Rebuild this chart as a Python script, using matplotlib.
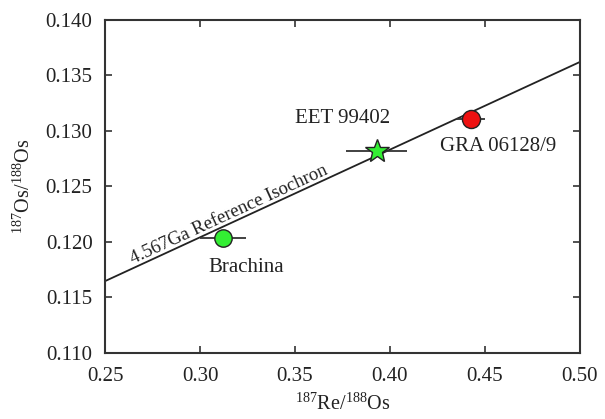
import numpy as np
import matplotlib.pyplot as plt

plt.rcParams['font.family'] = ['Liberation Serif', 'DejaVu Serif']
plt.rcParams['mathtext.fontset'] = 'custom'
plt.rcParams['mathtext.rm'] = 'Liberation Serif'

# samples: Re/Os, Os/Os, x error
names = ['Brachina', 'EET 99402', 'GRA 06128/9']
re_os = [0.312, 0.393, 0.4425]
os_os = [0.1203, 0.1282, 0.1311]
re_err = [0.012, 0.016, 0.0077]
colors = ['#33ee33', '#33ee33', '#ee1111']
markers = ['o', '*', 'o']
msizes = [12.5, 18, 13]

# label positions (data coords)
label_x = [0.3242, 0.3753, 0.4571]
label_y = [0.1177, 0.1311, 0.1286]

# 4.567 Ga reference isochron
slope = np.exp(1.666e-11 * 4.567e9) - 1
intercept = 0.09669
line_x = [0.25, 0.50]

fig = plt.figure(figsize=(6.05, 4.19), dpi=100)
ax = fig.add_axes([0.1736, 0.1582, 0.785, 0.7941])

ax.plot(line_x, [intercept + slope * x for x in line_x], color='#222222', lw=1.3, zorder=2)

for x, y, e, c, m, s in zip(re_os, os_os, re_err, colors, markers, msizes):
    ax.errorbar(x, y, xerr=e, fmt='none', ecolor='#333333', elinewidth=1.3, capsize=0, zorder=3)
    ax.plot(x, y, marker=m, ms=s, mfc=c, mec='#222222', mew=1.0, ls='none', zorder=4)

for n, x, y in zip(names, label_x, label_y):
    ax.text(x, y, n, fontsize=15, ha='center', va='center', color='#222222')

lx = 0.317
ax.text(lx, intercept + slope * lx, '4.567Ga Reference Isochron', fontsize=13.5,
        ha='center', va='bottom', rotation=np.degrees(np.arctan(slope)),
        transform_rotates_text=True, rotation_mode='anchor', color='#222222')

ax.set_xlim(0.25, 0.50)
ax.set_ylim(0.110, 0.140)
ax.set_xticks(np.arange(0.25, 0.501, 0.05))
ax.set_yticks(np.arange(0.110, 0.1401, 0.005))
ax.set_xticklabels(['0.25', '0.30', '0.35', '0.40', '0.45', '0.50'])
ax.set_yticklabels(['0.110', '0.115', '0.120', '0.125', '0.130', '0.135', '0.140'])
ax.tick_params(direction='in', top=True, right=True, length=5, width=1.2, labelsize=15,
               color='#333333', labelcolor='#222222', pad=9)
ax.tick_params(axis='x', pad=10)
for sp in ax.spines.values():
    sp.set_linewidth(1.5)
    sp.set_color('#333333')

ax.set_xlabel('$^{187}$Re/$^{188}$Os', fontsize=14.5, labelpad=5, color='#222222')
ax.set_ylabel('$^{187}$Os/$^{188}$Os', fontsize=14.5, labelpad=8, color='#222222')

fig.savefig('out.png', dpi=100)
